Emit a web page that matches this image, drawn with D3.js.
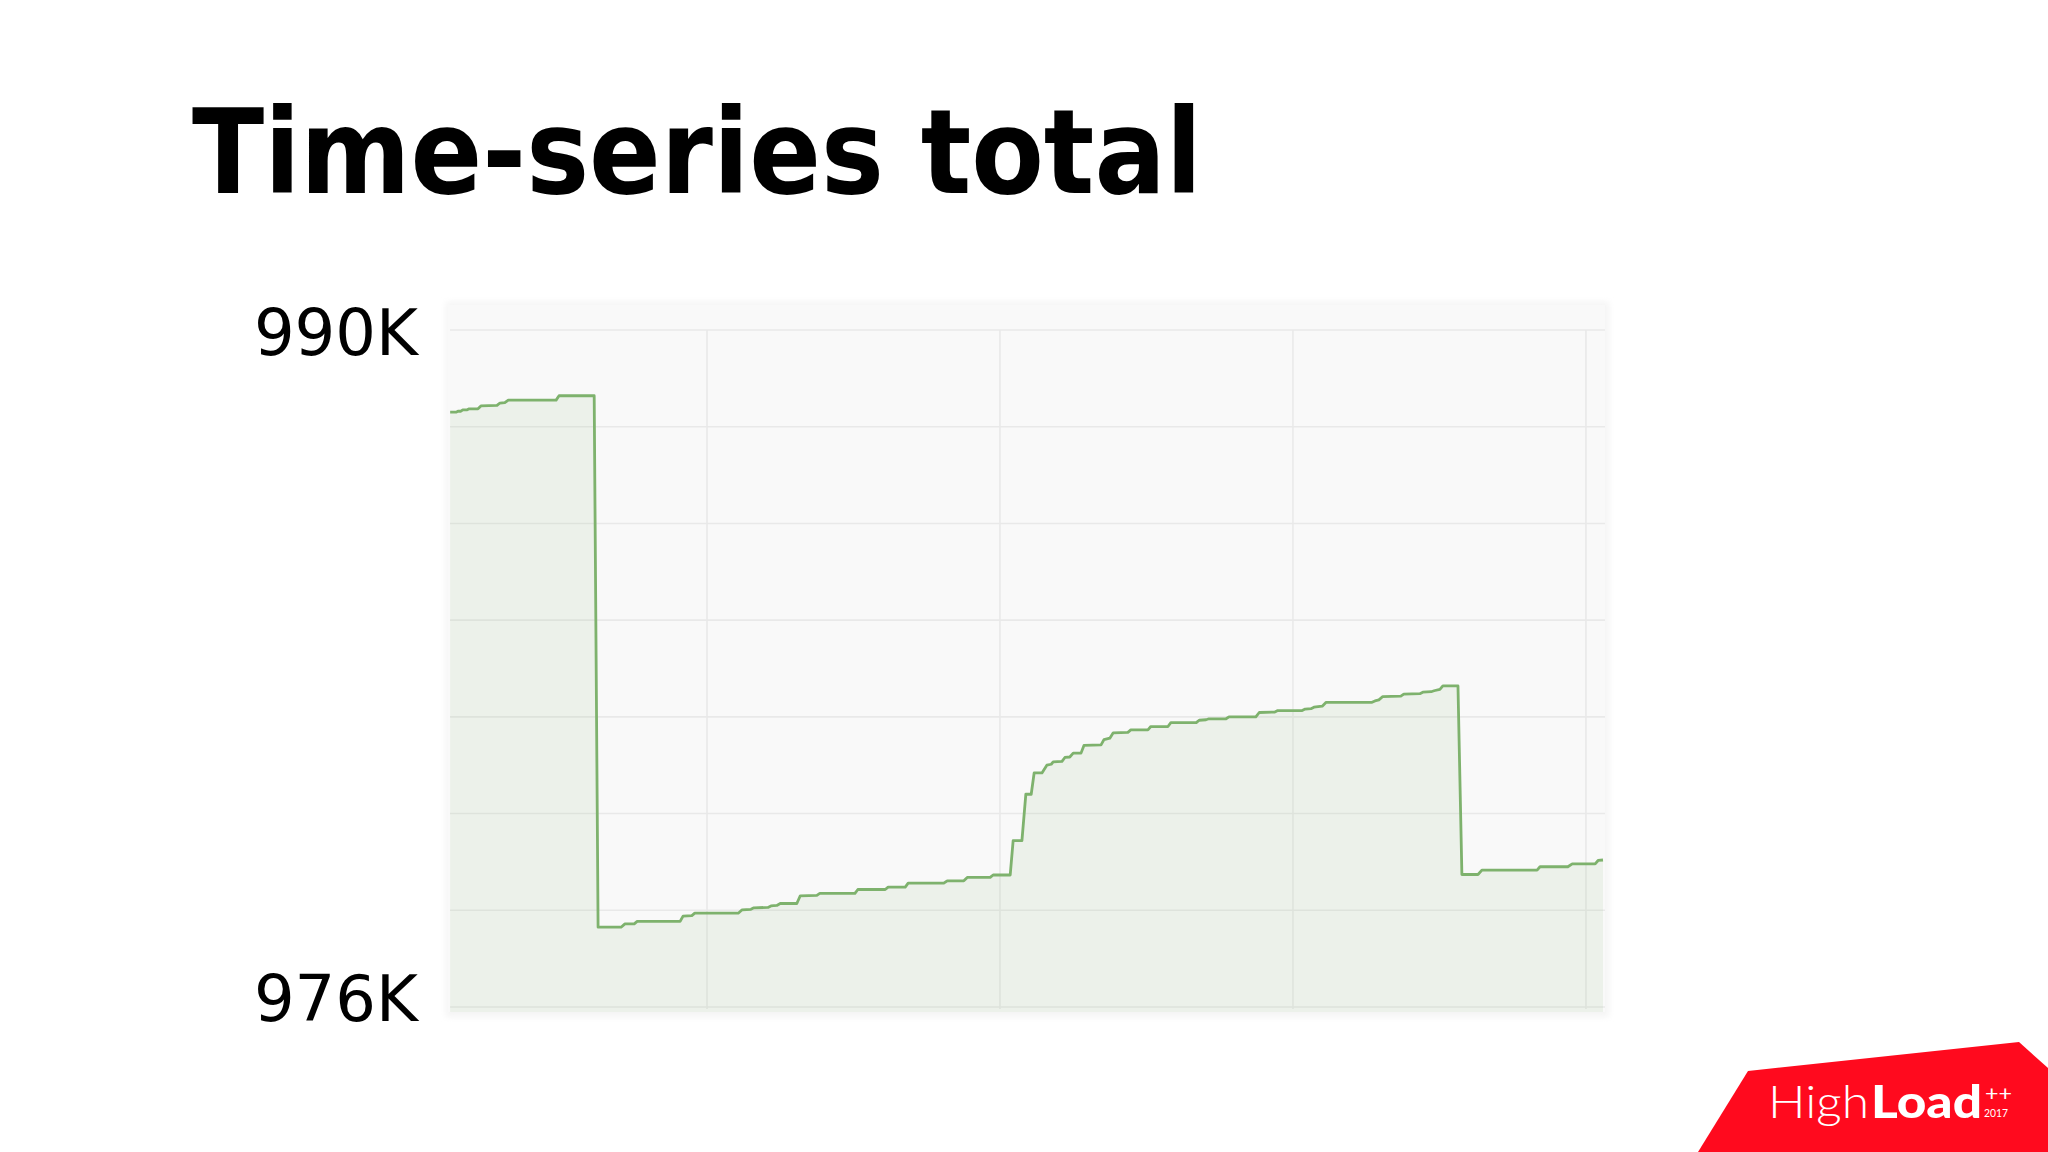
<!DOCTYPE html>
<html>
<head>
<meta charset="utf-8">
<script src="https://cdn.jsdelivr.net/npm/d3@7"></script>
<style>
  html, body { margin: 0; padding: 0; background: #ffffff; }
  svg { display: block; }
</style>
</head>
<body>
<script>
// ---------- data ----------
const title = "Time-series total";
// time in minutes (arbitrary origin), value in thousands
const times = [
  7.4, 8.6, 9.0, 9.6, 10.0, 10.9, 11.3, 13.1, 13.7, 17.0, 17.6, 18.6, 19.3, 29.1, 29.7, 36.9,
  37.7, 42.4, 43.2, 45.1, 45.7, 54.5, 55.1, 56.9, 57.5, 66.4, 67.2, 69.0, 69.6, 72.5, 73.1, 74.3, 75.0, 78.4, 79.1, 82.5, 83.1,
  90.3, 90.9, 96.5, 97.1, 100.6, 101.2, 108.5, 109.2, 112.6, 113.3, 118.0, 118.6, 122.1, 122.7, 124.5, 125.3, 126.4, 127.0,
  128.6, 129.6, 130.5, 130.9, 132.7, 133.3, 134.3, 135.0, 136.6, 137.2, 140.7, 141.3, 142.5, 143.2, 146.2, 146.8, 150.3, 150.9,
  154.4, 155.0, 160.2, 160.8, 162.2, 162.8, 166.3, 166.9, 172.4, 173.1, 176.3, 176.9, 181.9, 182.5, 183.7, 184.3, 186.0, 186.8,
  196.2, 196.8, 197.6, 198.4, 202.1, 202.7, 206.0, 206.6, 208.3, 208.9, 210.1, 210.7, 213.8,
  214.6, 217.9, 218.7, 230.0, 230.6, 236.3, 237.2, 241.9, 242.5, 243.5
];
const values = [
  988.30, 988.30, 988.32, 988.32, 988.35, 988.35, 988.37, 988.37, 988.43, 988.44, 988.49, 988.50, 988.55, 988.55, 988.64, 988.64,
  977.65, 977.65, 977.72, 977.72, 977.77, 977.77, 977.88, 977.89, 977.94, 977.94, 978.01, 978.02, 978.05, 978.06, 978.09, 978.10, 978.14, 978.14, 978.30, 978.31, 978.35,
  978.35, 978.43, 978.43, 978.48, 978.48, 978.56, 978.56, 978.61, 978.61, 978.68, 978.68, 978.73, 978.73, 979.44, 979.44, 980.40, 980.40, 980.84,
  980.84, 981.00, 981.02, 981.07, 981.08, 981.16, 981.17, 981.25, 981.25, 981.41, 981.42, 981.53, 981.56, 981.67, 981.68, 981.73, 981.73, 981.80,
  981.80, 981.88, 981.88, 981.93, 981.94, 981.96, 981.96, 982.00, 982.00, 982.09, 982.10, 982.13, 982.13, 982.16, 982.17, 982.20, 982.22, 982.30,
  982.30, 982.33, 982.35, 982.42, 982.43, 982.47, 982.48, 982.51, 982.52, 982.54, 982.57, 982.64, 982.64,
  978.74, 978.74, 978.83, 978.83, 978.90, 978.90, 978.96, 978.96, 979.03, 979.04
];
const yGridValues = [976, 978, 980, 982, 984, 986, 988, 990];
const xGridTimes = [60, 120, 180, 240];
const yTickValues = [990, 976];
const yTickLabels = ["990K", "976K"];
const logoLight = "High";
const logoBold = "Load";
const logoSup = "++";
const logoYear = "2017";

// ---------- layout ----------
const W = 2048, H = 1152;
const plot = { left: 450, right: 1603, top: 330, bottom: 1007, panelTop: 305, panelBottom: 1012 };

const svg = d3.select("body").append("svg").attr("width", W).attr("height", H);

const defs = svg.append("defs");
defs.append("filter").attr("id", "soft").attr("x", "-5%").attr("y", "-5%").attr("width", "110%").attr("height", "110%")
  .append("feGaussianBlur").attr("stdDeviation", 3);

const x = d3.scaleLinear().domain([7.37, 243.5]).range([plot.left, plot.right]);
const y = d3.scaleLinear().domain([976, 990]).range([plot.bottom, plot.top]);
const labelY = d3.scaleLinear().domain([976, 990]).range([1021, 355]);

// title
svg.append("text")
  .attr("x", 192).attr("y", 193)
  .attr("font-family", "DejaVu Sans, Verdana, sans-serif")
  .attr("font-weight", "bold")
  .attr("font-size", 118)
  .attr("textLength", 1010)
  .attr("lengthAdjust", "spacingAndGlyphs")
  .attr("fill", "#000")
  .text(title);

// panel background (soft edge)
svg.append("rect")
  .attr("x", plot.left - 4).attr("y", plot.panelTop - 3)
  .attr("width", plot.right - plot.left + 10).attr("height", plot.panelBottom - plot.panelTop + 8)
  .attr("fill", "#f4f4f4").attr("filter", "url(#soft)");
svg.append("rect")
  .attr("x", plot.left - 2).attr("y", plot.panelTop)
  .attr("width", plot.right - plot.left + 4).attr("height", plot.panelBottom - plot.panelTop)
  .attr("fill", "#f9f9f9");

// grid
svg.append("g").selectAll("line").data(yGridValues).join("line")
  .attr("x1", plot.left).attr("x2", plot.right + 2)
  .attr("y1", d => y(d)).attr("y2", d => y(d))
  .attr("stroke", "#e9e9e9").attr("stroke-width", 1.6);
svg.append("g").selectAll("line").data(xGridTimes).join("line")
  .attr("x1", d => x(d)).attr("x2", d => x(d))
  .attr("y1", plot.top).attr("y2", plot.bottom + 2)
  .attr("stroke", "#e9e9e9").attr("stroke-width", 1.6);

const data = times.map((t, i) => ({ t, v: values[i] }));

// area
svg.append("path").datum(data)
  .attr("d", d3.area().x(d => x(d.t)).y0(plot.panelBottom).y1(d => y(d.v)))
  .attr("fill", "#7EB26D").attr("fill-opacity", 0.1);

// line
svg.append("path").datum(data)
  .attr("d", d3.line().x(d => x(d.t)).y(d => y(d.v)))
  .attr("fill", "none").attr("stroke", "#7EB26D").attr("stroke-width", 2.8)
  .attr("stroke-linejoin", "round");

// y labels
svg.append("g").selectAll("text").data(yTickValues).join("text")
  .attr("x", 418).attr("y", d => labelY(d))
  .attr("text-anchor", "end")
  .attr("font-family", "DejaVu Sans, Verdana, sans-serif")
  .attr("font-size", 64)
  .attr("fill", "#000")
  .text((d, i) => yTickLabels[i]);

// logo
const logo = svg.append("g");
logo.append("polygon")
  .attr("points", "1748,1071 2019,1042 2048,1068 2048,1152 1698,1152")
  .attr("fill", "#ff0a1e");
logo.append("text")
  .attr("x", 1768).attr("y", 1118)
  .attr("font-family", "Lato, 'Open Sans', sans-serif").attr("font-weight", 300)
  .attr("font-size", 46).attr("fill", "#fff")
  .attr("textLength", 101).attr("lengthAdjust", "spacingAndGlyphs")
  .text(logoLight);
logo.append("text")
  .attr("x", 1871).attr("y", 1118)
  .attr("font-family", "Lato, 'Open Sans', sans-serif").attr("font-weight", 900)
  .attr("font-size", 46).attr("fill", "#fff")
  .attr("textLength", 111).attr("lengthAdjust", "spacingAndGlyphs")
  .text(logoBold);
logo.append("text")
  .attr("x", 1985).attr("y", 1101)
  .attr("font-family", "Lato, sans-serif").attr("font-weight", 400)
  .attr("font-size", 22).attr("fill", "#fff")
  .attr("textLength", 27).attr("lengthAdjust", "spacingAndGlyphs")
  .text(logoSup);
logo.append("text")
  .attr("x", 1984).attr("y", 1117)
  .attr("font-family", "Lato, sans-serif").attr("font-weight", 400)
  .attr("font-size", 12).attr("fill", "#fff")
  .attr("textLength", 24).attr("lengthAdjust", "spacingAndGlyphs")
  .text(logoYear);
</script>
</body>
</html>
